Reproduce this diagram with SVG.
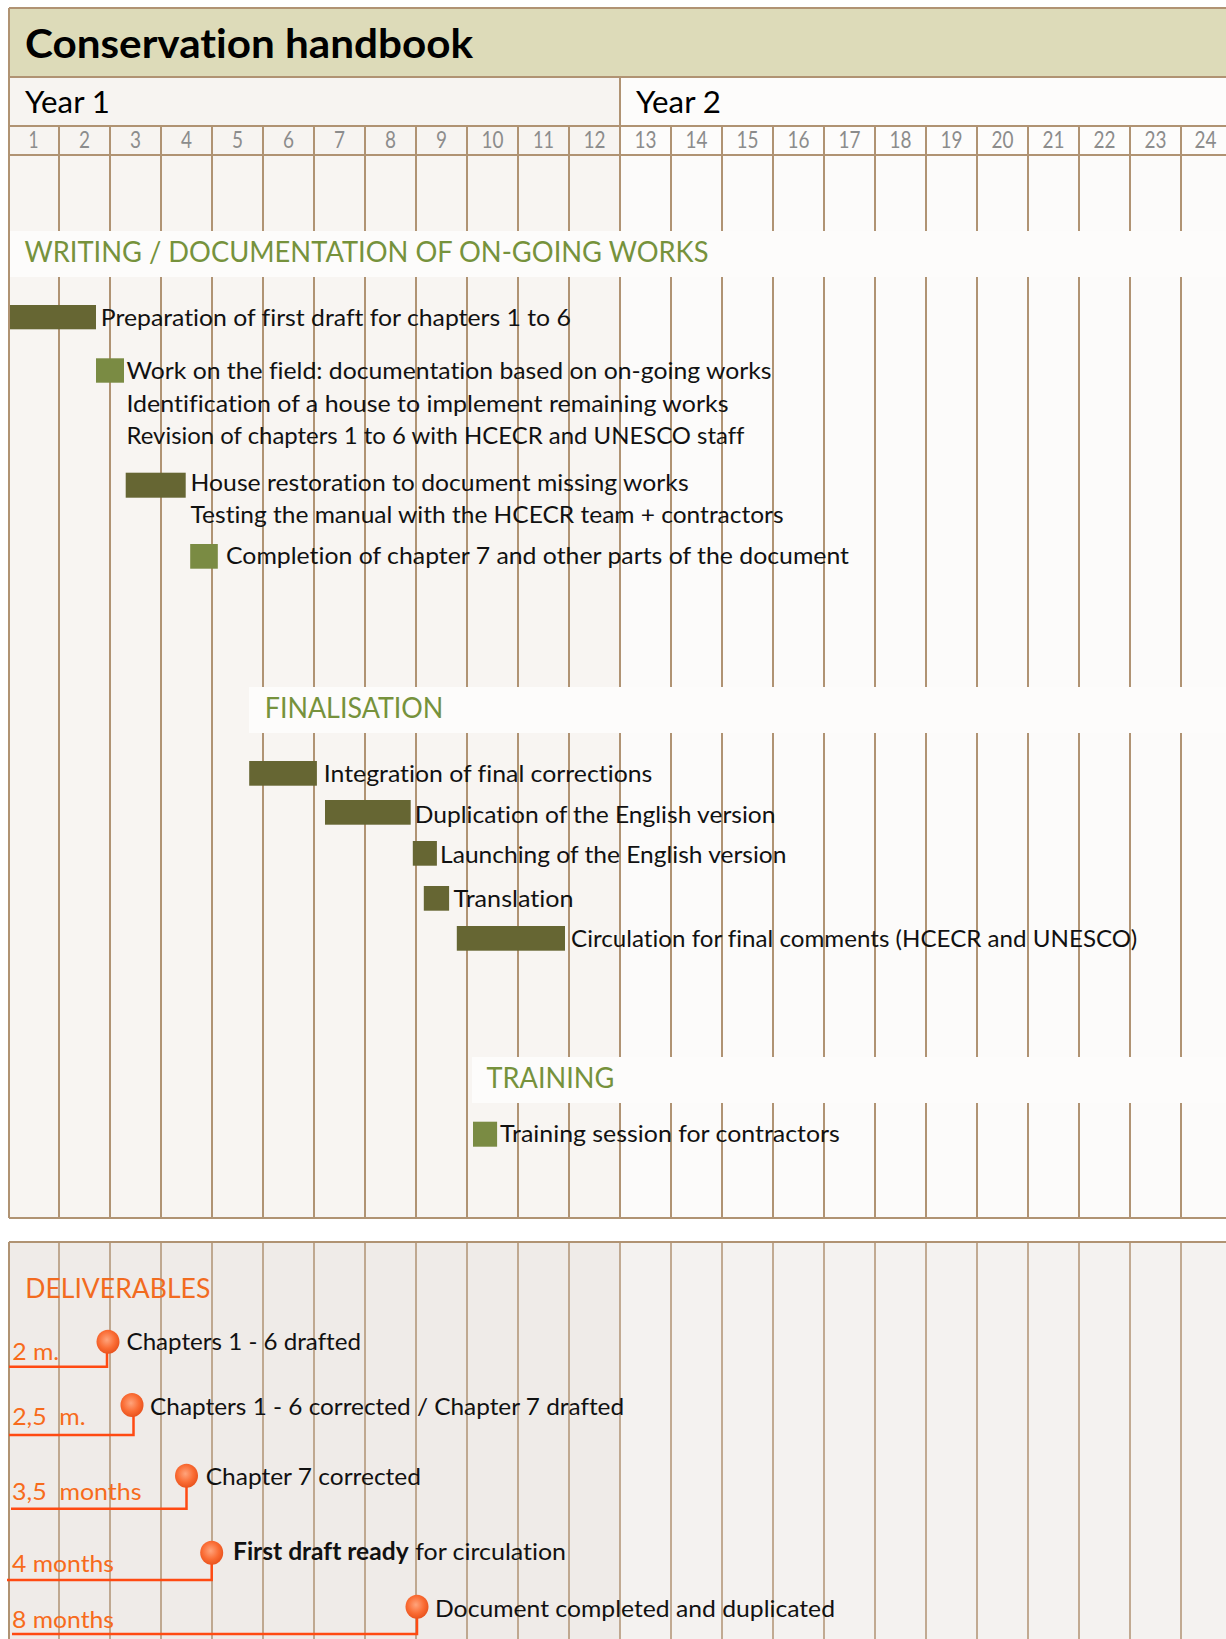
<svg xmlns="http://www.w3.org/2000/svg" width="1226" height="1639" viewBox="0 0 1226 1639">
<style>
text{font-family:Lato,"Open Sans","Liberation Sans",sans-serif;font-variant-ligatures:none}
.t{font-size:24px;fill:#111111}
.h{font-size:28px;fill:#76923C}
.m{font-size:23px;fill:#8C8C8C;text-anchor:middle}
.o{font-size:23.5px;fill:#F76B1C}
.g{stroke:#B09373;stroke-width:2;fill:none}
.g2{stroke:#B09373;stroke-width:1.5;fill:none}
.dk{fill:#666633}
.lt{fill:#7A8B43}
.ms{stroke:#FF4A12;stroke-width:2.5;fill:none}
.dot{fill:url(#rg)}
</style>
<defs>
<radialGradient id="rg" cx="0.45" cy="0.42" r="0.6">
<stop offset="0" stop-color="#FFA47C"/>
<stop offset="0.6" stop-color="#FA6C34"/>
<stop offset="1" stop-color="#E8511C"/>
</radialGradient>
</defs>
<rect x="0" y="0" width="1226" height="1639" fill="#FFFFFF"/>

<g id="header">
<rect x="9" y="8" width="1220" height="69" fill="#DDDBB9"/>
<rect x="9" y="77" width="611" height="78" fill="#F7F4F1"/>
<rect x="620" y="77" width="610" height="78" fill="#FDFCFB"/>
<rect x="9" y="155" width="611" height="1063" fill="#F8F5F2"/>
<rect x="620" y="155" width="610" height="1063" fill="#FCFBFA"/>
<path class="g" d="M9,8H1226M9,77H1226M9,126H1226M9,155H1226M9,1218H1226M9,8V1218M620,77V126"/>
<path class="g" d="M59,126V1218M110,126V1218M161,126V1218M212,126V1218M263,126V1218M314,126V1218M365,126V1218M416,126V1218M467,126V1218M518,126V1218M569,126V1218M620,126V1218M671,126V1218M722,126V1218M773,126V1218M824,126V1218M875,126V1218M926,126V1218M977,126V1218M1028,126V1218M1079,126V1218M1130,126V1218M1181,126V1218"/>
<text x="25" y="57.5" style="font-size:40px;font-weight:700;fill:#000" textLength="448" lengthAdjust="spacingAndGlyphs">Conservation handbook</text>
<text x="25" y="113" style="font-size:30px;fill:#000" textLength="85" lengthAdjust="spacingAndGlyphs">Year 1</text>
<text x="636" y="113" style="font-size:30px;fill:#000" textLength="85" lengthAdjust="spacingAndGlyphs">Year 2</text>
<g class="m">
<text x="33.5" y="148.3" textLength="10" lengthAdjust="spacingAndGlyphs">1</text>
<text x="84.5" y="148.3" textLength="11" lengthAdjust="spacingAndGlyphs">2</text>
<text x="135.5" y="148.3" textLength="11" lengthAdjust="spacingAndGlyphs">3</text>
<text x="186.5" y="148.3" textLength="11" lengthAdjust="spacingAndGlyphs">4</text>
<text x="237.5" y="148.3" textLength="11" lengthAdjust="spacingAndGlyphs">5</text>
<text x="288.5" y="148.3" textLength="11" lengthAdjust="spacingAndGlyphs">6</text>
<text x="339.5" y="148.3" textLength="11" lengthAdjust="spacingAndGlyphs">7</text>
<text x="390.5" y="148.3" textLength="11" lengthAdjust="spacingAndGlyphs">8</text>
<text x="441.5" y="148.3" textLength="11" lengthAdjust="spacingAndGlyphs">9</text>
<text x="492.5" y="148.3" textLength="22" lengthAdjust="spacingAndGlyphs">10</text>
<text x="543.5" y="148.3" textLength="21" lengthAdjust="spacingAndGlyphs">11</text>
<text x="594.5" y="148.3" textLength="22" lengthAdjust="spacingAndGlyphs">12</text>
<text x="645.5" y="148.3" textLength="22" lengthAdjust="spacingAndGlyphs">13</text>
<text x="696.5" y="148.3" textLength="22" lengthAdjust="spacingAndGlyphs">14</text>
<text x="747.5" y="148.3" textLength="22" lengthAdjust="spacingAndGlyphs">15</text>
<text x="798.5" y="148.3" textLength="22" lengthAdjust="spacingAndGlyphs">16</text>
<text x="849.5" y="148.3" textLength="22" lengthAdjust="spacingAndGlyphs">17</text>
<text x="900.5" y="148.3" textLength="22" lengthAdjust="spacingAndGlyphs">18</text>
<text x="951.5" y="148.3" textLength="22" lengthAdjust="spacingAndGlyphs">19</text>
<text x="1002.5" y="148.3" textLength="22" lengthAdjust="spacingAndGlyphs">20</text>
<text x="1053.5" y="148.3" textLength="22" lengthAdjust="spacingAndGlyphs">21</text>
<text x="1104.5" y="148.3" textLength="22" lengthAdjust="spacingAndGlyphs">22</text>
<text x="1155.5" y="148.3" textLength="22" lengthAdjust="spacingAndGlyphs">23</text>
<text x="1205.5" y="148.3" textLength="22" lengthAdjust="spacingAndGlyphs">24</text>
</g>
</g>

<g id="section-writing">
<rect x="10" y="231" width="1216" height="46" fill="#FDFCFB"/>
<text class="h" x="24.5" y="262.3" textLength="684" lengthAdjust="spacingAndGlyphs">WRITING / DOCUMENTATION OF ON-GOING WORKS</text>
</g>
<g id="task-preparation">
<rect class="dk" x="10" y="305" width="86" height="24.3"/>
<text class="t" x="100.8" y="326" textLength="470" lengthAdjust="spacingAndGlyphs">Preparation of first draft for chapters 1 to 6</text>
</g>
<g id="task-field">
<rect class="lt" x="96" y="358.3" width="28" height="24.4"/>
<text class="t" x="126.5" y="379.3" textLength="645" lengthAdjust="spacingAndGlyphs">Work on the field: documentation based on on-going works</text>
<text class="t" x="126.5" y="411.5" textLength="602" lengthAdjust="spacingAndGlyphs">Identification of a house to implement remaining works</text>
<text class="t" x="126.5" y="443.7" textLength="618" lengthAdjust="spacingAndGlyphs">Revision of chapters 1 to 6 with HCECR and UNESCO staff</text>
</g>
<g id="task-house">
<rect class="dk" x="125.7" y="472.7" width="60" height="25"/>
<text class="t" x="190.6" y="490.7" textLength="498" lengthAdjust="spacingAndGlyphs">House restoration to document missing works</text>
<text class="t" x="190.6" y="523.3" textLength="593" lengthAdjust="spacingAndGlyphs">Testing the manual with the HCECR team + contractors</text>
</g>
<g id="task-completion">
<rect class="lt" x="190.2" y="544" width="27.6" height="24.7"/>
<text class="t" x="226" y="564.3" textLength="623" lengthAdjust="spacingAndGlyphs">Completion of chapter 7 and other parts of the document</text>
</g>

<g id="section-finalisation">
<rect x="249" y="687" width="977" height="46" fill="#FDFCFB"/>
<text class="h" x="264.7" y="718.3" textLength="178.7" lengthAdjust="spacingAndGlyphs">FINALISATION</text>
</g>
<g id="task-integration">
<rect class="dk" x="249.2" y="761" width="67.7" height="24.7"/>
<text class="t" x="323.8" y="781.7" textLength="328.5" lengthAdjust="spacingAndGlyphs">Integration of final corrections</text>
</g>
<g id="task-duplication">
<rect class="dk" x="325" y="800" width="85.7" height="24.7"/>
<text class="t" x="414.8" y="822.7" textLength="360.7" lengthAdjust="spacingAndGlyphs">Duplication of the English version</text>
</g>
<g id="task-launching">
<rect class="dk" x="412.8" y="841" width="24.1" height="24.7"/>
<text class="t" x="440.1" y="862.7" textLength="346.4" lengthAdjust="spacingAndGlyphs">Launching of the English version</text>
</g>
<g id="task-translation">
<rect class="dk" x="423.8" y="886" width="25.3" height="24.7"/>
<text class="t" x="453.6" y="906.7" textLength="120" lengthAdjust="spacingAndGlyphs">Translation</text>
</g>
<g id="task-circulation">
<rect class="dk" x="456.8" y="926" width="108.2" height="24.7"/>
<text class="t" x="571.1" y="946.7" textLength="566" lengthAdjust="spacingAndGlyphs">Circulation for final comments (HCECR and UNESCO)</text>
</g>

<g id="section-training">
<rect x="472" y="1057" width="754" height="46" fill="#FDFCFB"/>
<text class="h" x="486.6" y="1087.7" textLength="127.7" lengthAdjust="spacingAndGlyphs">TRAINING</text>
</g>
<g id="task-training">
<rect class="lt" x="473" y="1121.7" width="24.1" height="25"/>
<text class="t" x="500.1" y="1141.7" textLength="339.7" lengthAdjust="spacingAndGlyphs">Training session for contractors</text>
</g>

<g id="deliverables-panel">
<rect x="9" y="1242" width="611" height="397" fill="#EFEBE8"/>
<rect x="620" y="1242" width="606" height="397" fill="#F4F2F0"/>
<path class="g" d="M9,1242H1226M9,1242V1639"/>
<path class="g2" d="M59,1242V1639M110,1242V1639M161,1242V1639M212,1242V1639M263,1242V1639M314,1242V1639M365,1242V1639M416,1242V1639M467,1242V1639M518,1242V1639M569,1242V1639M620,1242V1639M671,1242V1639M722,1242V1639M773,1242V1639M824,1242V1639M875,1242V1639M926,1242V1639M977,1242V1639M1028,1242V1639M1079,1242V1639M1130,1242V1639M1181,1242V1639"/>
<text x="25.3" y="1297.7" style="font-size:26px;fill:#F26B1F" textLength="185" lengthAdjust="spacingAndGlyphs">DELIVERABLES</text>
</g>

<g id="connectors">
<path class="ms" d="M107,1352V1366.7H9"/>
<path class="ms" d="M133.5,1415V1435H9"/>
<path class="ms" d="M186.5,1486V1508.7H11"/>
<path class="ms" d="M211.7,1563V1580H7"/>
<path class="ms" d="M417,1617V1634H12"/>
</g>

<g id="milestone-1">
<ellipse class="dot" cx="108" cy="1341.7" rx="11.5" ry="12"/>
<text class="o" x="12.2" y="1360" textLength="47" lengthAdjust="spacingAndGlyphs">2 m.</text>
<text class="t" x="126.5" y="1350" textLength="234.5" lengthAdjust="spacingAndGlyphs">Chapters 1 - 6 drafted</text>
</g>
<g id="milestone-2">
<ellipse class="dot" cx="132" cy="1405" rx="11.5" ry="12"/>
<text class="o" x="12.2" y="1425" xml:space="preserve" textLength="73.5" lengthAdjust="spacingAndGlyphs">2,5  m.</text>
<text class="t" x="150.1" y="1415" textLength="474" lengthAdjust="spacingAndGlyphs">Chapters 1 - 6 corrected / Chapter 7 drafted</text>
</g>
<g id="milestone-3">
<ellipse class="dot" cx="186.5" cy="1475.7" rx="11.5" ry="12"/>
<text class="o" x="12" y="1500" xml:space="preserve" textLength="129.5" lengthAdjust="spacingAndGlyphs">3,5  months</text>
<text class="t" x="205.7" y="1485" textLength="215.3" lengthAdjust="spacingAndGlyphs">Chapter 7 corrected</text>
</g>
<g id="milestone-4">
<ellipse class="dot" cx="211.7" cy="1552.7" rx="11.5" ry="12"/>
<text class="o" x="12" y="1571.7" textLength="102" lengthAdjust="spacingAndGlyphs">4 months</text>
<text class="t" x="233" y="1560" style="font-weight:700" textLength="175.6" lengthAdjust="spacingAndGlyphs">First draft ready</text>
<text class="t" x="415.2" y="1560" textLength="150.8" lengthAdjust="spacingAndGlyphs">for circulation</text>
</g>
<g id="milestone-5">
<ellipse class="dot" cx="417" cy="1606.7" rx="11.5" ry="12"/>
<text class="o" x="12" y="1628.3" textLength="102" lengthAdjust="spacingAndGlyphs">8 months</text>
<text class="t" x="435" y="1616.7" textLength="400" lengthAdjust="spacingAndGlyphs">Document completed and duplicated</text>
</g>
</svg>
